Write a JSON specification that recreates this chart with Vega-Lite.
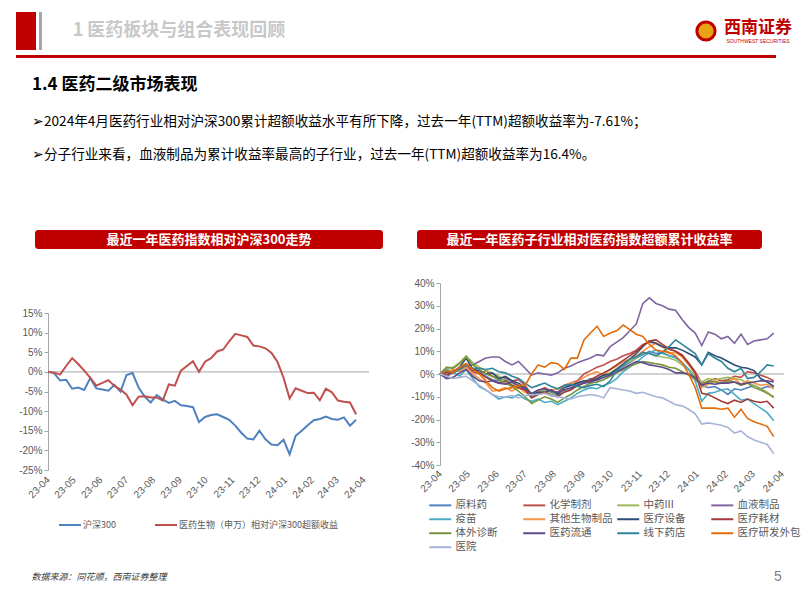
{
"$schema": "https://vega.github.io/schema/vega-lite/v6.json",
"background": "white",
"padding": {"left": 16, "top": 12, "right": 4, "bottom": 4},
"config": {"view": {"stroke": null}, "font": "Noto Sans CJK SC", "axis": {"labelOverlap": false}, "axisY": {"labelOverlap": false}},
"datasets": {
"hs": [
{"d":"2023-04-01","沪深300":0,"医药生物（申万）相对沪深300超额收益":0},
{"d":"2023-04-08","沪深300":-0.3,"医药生物（申万）相对沪深300超额收益":-0.2},
{"d":"2023-04-15","沪深300":-2.2,"医药生物（申万）相对沪深300超额收益":-0.7},
{"d":"2023-04-22","沪深300":-2.0,"医药生物（申万）相对沪深300超额收益":1.5},
{"d":"2023-04-29","沪深300":-4.3,"医药生物（申万）相对沪深300超额收益":3.5},
{"d":"2023-05-06","沪深300":-4.0,"医药生物（申万）相对沪深300超额收益":2.0},
{"d":"2023-05-13","沪深300":-4.6,"医药生物（申万）相对沪深300超额收益":0.3},
{"d":"2023-05-20","沪深300":-1.6,"医药生物（申万）相对沪深300超额收益":-1.5},
{"d":"2023-05-27","沪深300":-4.2,"医药生物（申万）相对沪深300超额收益":-3.5},
{"d":"2023-06-03","沪深300":-4.5,"医药生物（申万）相对沪深300超额收益":-2.8},
{"d":"2023-06-10","沪深300":-4.8,"医药生物（申万）相对沪深300超额收益":-2.1},
{"d":"2023-06-17","沪深300":-3.3,"医药生物（申万）相对沪深300超额收益":-3.6},
{"d":"2023-06-24","沪深300":-5.0,"医药生物（申万）相对沪深300超额收益":-4.5},
{"d":"2023-07-01","沪深300":-0.8,"医药生物（申万）相对沪深300超额收益":-5.8},
{"d":"2023-07-08","沪深300":-0.3,"医药生物（申万）相对沪深300超额收益":-8.5},
{"d":"2023-07-15","沪深300":-4.0,"医药生物（申万）相对沪深300超额收益":-6.3},
{"d":"2023-07-22","沪深300":-6.3,"医药生物（申万）相对沪深300超额收益":-6.2},
{"d":"2023-07-29","沪深300":-7.8,"医药生物（申万）相对沪深300超额收益":-6.5},
{"d":"2023-08-05","沪深300":-5.9,"医药生物（申万）相对沪深300超额收益":-6.5},
{"d":"2023-08-12","沪深300":-7.0,"医药生物（申万）相对沪深300超额收益":-7.3},
{"d":"2023-08-19","沪深300":-7.9,"医药生物（申万）相对沪深300超额收益":-3.2},
{"d":"2023-08-26","沪深300":-7.4,"医药生物（申万）相对沪深300超额收益":-3.5},
{"d":"2023-09-02","沪深300":-8.5,"医药生物（申万）相对沪深300超额收益":0.3},
{"d":"2023-09-09","沪深300":-8.7,"医药生物（申万）相对沪深300超额收益":1.5},
{"d":"2023-09-16","沪深300":-9.0,"医药生物（申万）相对沪深300超额收益":2.7},
{"d":"2023-09-23","沪深300":-12.8,"医药生物（申万）相对沪深300超额收益":0.0},
{"d":"2023-09-30","沪深300":-11.5,"医药生物（申万）相对沪深300超额收益":2.6},
{"d":"2023-10-07","沪深300":-11.0,"医药生物（申万）相对沪深300超额收益":3.5},
{"d":"2023-10-14","沪深300":-10.8,"医药生物（申万）相对沪深300超额收益":5.2},
{"d":"2023-10-21","沪深300":-11.5,"医药生物（申万）相对沪深300超额收益":5.7},
{"d":"2023-10-28","沪深300":-12.2,"医药生物（申万）相对沪深300超额收益":7.8},
{"d":"2023-11-04","沪深300":-13.7,"医药生物（申万）相对沪深300超额收益":9.7},
{"d":"2023-11-11","沪深300":-15.5,"医药生物（申万）相对沪深300超额收益":9.3},
{"d":"2023-11-18","沪深300":-17.0,"医药生物（申万）相对沪深300超额收益":8.9},
{"d":"2023-11-25","沪深300":-17.2,"医药生物（申万）相对沪深300超额收益":6.7},
{"d":"2023-12-02","沪深300":-15.0,"医药生物（申万）相对沪深300超额收益":6.5},
{"d":"2023-12-09","沪深300":-17.2,"医药生物（申万）相对沪深300超额收益":6.0},
{"d":"2023-12-16","沪深300":-18.5,"医药生物（申万）相对沪深300超额收益":4.8},
{"d":"2023-12-23","沪深300":-18.7,"医药生物（申万）相对沪深300超额收益":2.5},
{"d":"2023-12-30","沪深300":-17.3,"医药生物（申万）相对沪深300超额收益":-1.5},
{"d":"2024-01-06","沪深300":-21.0,"医药生物（申万）相对沪深300超额收益":-6.8},
{"d":"2024-01-13","沪深300":-16.3,"医药生物（申万）相对沪深300超额收益":-4.2},
{"d":"2024-01-20","沪深300":-15.0,"医药生物（申万）相对沪深300超额收益":-4.8},
{"d":"2024-01-27","沪深300":-13.6,"医药生物（申万）相对沪深300超额收益":-5.4},
{"d":"2024-02-03","沪深300":-12.3,"医药生物（申万）相对沪深300超额收益":-5.3},
{"d":"2024-02-10","沪深300":-12.0,"医药生物（申万）相对沪深300超额收益":-7.2},
{"d":"2024-02-17","沪深300":-11.4,"医药生物（申万）相对沪深300超额收益":-4.3},
{"d":"2024-02-24","沪深300":-12.0,"医药生物（申万）相对沪深300超额收益":-5.2},
{"d":"2024-03-02","沪深300":-12.2,"医药生物（申万）相对沪深300超额收益":-7.3},
{"d":"2024-03-09","沪深300":-11.6,"医药生物（申万）相对沪深300超额收益":-7.6},
{"d":"2024-03-16","沪深300":-13.7,"医药生物（申万）相对沪深300超额收益":-7.8},
{"d":"2024-03-23","沪深300":-12.2,"医药生物（申万）相对沪深300超额收益":-10.8}
],
"sub": [
{"d":"2023-04-01","原料药":0,"化学制剂":0,"中药III":0,"血液制品":0,"疫苗":0,"其他生物制品":0,"医疗设备":0,"医疗耗材":0,"体外诊断":0,"医药流通":0,"线下药店":0,"医疗研发外包":0,"医院":0},
{"d":"2023-04-08","原料药":1.0,"化学制剂":0.5,"中药III":2.5,"血液制品":-1.5,"疫苗":2.0,"其他生物制品":1.0,"医疗设备":1.0,"医疗耗材":-0.5,"体外诊断":3.0,"医药流通":-2.0,"线下药店":1.5,"医疗研发外包":1.5,"医院":-1.0},
{"d":"2023-04-15","原料药":0.5,"化学制剂":1.0,"中药III":3.0,"血液制品":1.0,"疫苗":1.0,"其他生物制品":2.0,"医疗设备":0.5,"医疗耗材":1.0,"体外诊断":2.5,"医药流通":-1.5,"线下药店":0.5,"医疗研发外包":0.5,"医院":-2.0},
{"d":"2023-04-22","原料药":2.5,"化学制剂":2.0,"中药III":5.0,"血液制品":2.5,"疫苗":-1.0,"其他生物制品":1.0,"医疗设备":3.0,"医疗耗材":3.0,"体外诊断":4.5,"医药流通":0.5,"线下药店":2.0,"医疗研发外包":3.0,"医院":-1.5},
{"d":"2023-04-29","原料药":4.0,"化学制剂":3.5,"中药III":8.0,"血液制品":3.0,"疫苗":2.0,"其他生物制品":3.0,"医疗设备":7.0,"医疗耗材":4.5,"体外诊断":7.5,"医药流通":2.0,"线下药店":4.0,"医疗研发外包":4.5,"医院":-1.0},
{"d":"2023-05-06","原料药":1.5,"化学制剂":1.0,"中药III":5.0,"血液制品":4.0,"疫苗":-2.0,"其他生物制品":0.0,"医疗设备":2.0,"医疗耗材":2.0,"体外诊断":4.0,"医药流通":-1.0,"线下药店":2.5,"医疗研发外包":2.0,"医院":-3.0},
{"d":"2023-05-13","原料药":0.5,"化学制剂":0.0,"中药III":3.0,"血液制品":5.5,"疫苗":-5.5,"其他生物制品":-2.0,"医疗设备":1.5,"医疗耗材":0.5,"体外诊断":2.0,"医药流通":-3.0,"线下药店":2.5,"医疗研发外包":0.0,"医院":-5.0},
{"d":"2023-05-20","原料药":-1.0,"化学制剂":1.5,"中药III":1.5,"血液制品":7.0,"疫苗":-7.0,"其他生物制品":-4.0,"医疗设备":0.0,"医疗耗材":-1.5,"体外诊断":0.0,"医药流通":-3.5,"线下药店":2.0,"医疗研发外包":-3.0,"医院":-7.0},
{"d":"2023-05-27","原料药":-2.5,"化学制剂":-1.0,"中药III":0.5,"血液制品":7.5,"疫苗":-9.0,"其他生物制品":-7.5,"医疗设备":0.5,"医疗耗材":-3.0,"体外诊断":-1.0,"医药流通":-3.0,"线下药店":2.5,"医疗研发外包":-6.0,"医院":-9.0},
{"d":"2023-06-03","原料药":-3.0,"化学制剂":-2.0,"中药III":-1.0,"血液制品":7.5,"疫苗":-11.0,"其他生物制品":-7.0,"医疗设备":-2.0,"医疗耗材":-4.0,"体外诊断":-2.5,"医药流通":-4.0,"线下药店":1.0,"医疗研发外包":-7.5,"医院":-10.0},
{"d":"2023-06-10","原料药":-2.0,"化学制剂":-1.5,"中药III":-3.0,"血液制品":5.5,"疫苗":-10.0,"其他生物制品":-6.0,"医疗设备":-1.0,"医疗耗材":-3.0,"体外诊断":-4.0,"医药流通":-4.5,"线下药店":0.5,"医疗研发外包":-6.5,"医院":-10.0},
{"d":"2023-06-17","原料药":-4.0,"化学制剂":-3.0,"中药III":-4.0,"血液制品":4.0,"疫苗":-10.5,"其他生物制品":-7.5,"医疗设备":-3.0,"医疗耗材":-5.0,"体外诊断":-5.5,"医药流通":-3.5,"线下药店":-1.0,"医疗研发外包":-6.0,"医院":-9.5},
{"d":"2023-06-24","原料药":-5.0,"化学制剂":-2.5,"中药III":-5.5,"血液制品":5.5,"疫苗":-9.0,"其他生物制品":-6.0,"医疗设备":-4.0,"医疗耗材":-6.0,"体外诊断":-7.5,"医药流通":-5.0,"线下药店":-2.0,"医疗研发外包":-5.0,"医院":-10.5},
{"d":"2023-07-01","原料药":-6.5,"化学制剂":-5.0,"中药III":-7.0,"血液制品":2.5,"疫苗":-11.0,"其他生物制品":-8.0,"医疗设备":-6.0,"医疗耗材":-7.0,"体外诊断":-10.0,"医药流通":-6.5,"线下药店":-4.0,"医疗研发外包":-5.0,"医院":-9.5},
{"d":"2023-07-08","原料药":-10.0,"化学制剂":-9.0,"中药III":-9.5,"血液制品":-0.5,"疫苗":-12.0,"其他生物制品":-9.0,"医疗设备":-9.0,"医疗耗材":-10.5,"体外诊断":-13.0,"医药流通":-8.5,"线下药店":-6.0,"医疗研发外包":0.0,"医院":-9.0},
{"d":"2023-07-15","原料药":-8.5,"化学制剂":-7.5,"中药III":-8.0,"血液制品":0.5,"疫苗":-11.0,"其他生物制品":-8.0,"医疗设备":-8.0,"医疗耗材":-9.0,"体外诊断":-11.5,"医药流通":-7.0,"线下药店":-5.0,"医疗研发外包":4.0,"医院":-9.0},
{"d":"2023-07-22","原料药":-7.0,"化学制剂":-6.0,"中药III":-7.0,"血液制品":0.0,"疫苗":-12.5,"其他生物制品":-8.5,"医疗设备":-8.0,"医疗耗材":-8.0,"体外诊断":-10.0,"医药流通":-6.5,"线下药店":-4.0,"医疗研发外包":3.0,"医院":-8.5},
{"d":"2023-07-29","原料药":-8.0,"化学制剂":-7.5,"中药III":-9.0,"血液制品":-0.5,"疫苗":-12.0,"其他生物制品":-7.0,"医疗设备":-7.0,"医疗耗材":-9.5,"体外诊断":-11.0,"医药流通":-7.5,"线下药店":-5.5,"医疗研发外包":5.0,"医院":-9.5},
{"d":"2023-08-05","原料药":-9.5,"化学制剂":-8.0,"中药III":-8.5,"血液制品":0.5,"疫苗":-13.5,"其他生物制品":-6.5,"医疗设备":-9.0,"医疗耗材":-10.0,"体外诊断":-12.5,"医药流通":-8.0,"线下药店":-6.5,"医疗研发外包":4.5,"医院":-10.0},
{"d":"2023-08-12","原料药":-7.0,"化学制剂":-5.0,"中药III":-7.5,"血液制品":2.5,"疫苗":-12.0,"其他生物制品":-5.0,"医疗设备":-6.0,"医疗耗材":-8.0,"体外诊断":-10.5,"医药流通":-7.0,"线下药店":-5.0,"医疗研发外包":2.0,"医院":-10.5},
{"d":"2023-08-19","原料药":-6.5,"化学制剂":-4.0,"中药III":-6.0,"血液制品":3.5,"疫苗":-10.5,"其他生物制品":-4.0,"医疗设备":-5.0,"医疗耗材":-7.0,"体外诊断":-9.0,"医药流通":-6.0,"线下药店":-4.5,"医疗研发外包":7.0,"医院":-11.0},
{"d":"2023-08-26","原料药":-4.0,"化学制剂":-3.0,"中药III":-5.5,"血液制品":5.0,"疫苗":-8.5,"其他生物制品":-3.5,"医疗设备":-4.0,"医疗耗材":-5.0,"体外诊断":-7.0,"医药流通":-5.0,"线下药店":-5.5,"医疗研发外包":7.0,"医院":-10.0},
{"d":"2023-09-02","原料药":-3.5,"化学制剂":0.0,"中药III":-4.0,"血液制品":6.0,"疫苗":-7.0,"其他生物制品":-1.5,"医疗设备":-3.0,"医疗耗材":-4.0,"体外诊断":-5.5,"医药流通":-4.0,"线下药店":-6.0,"医疗研发外包":15.0,"医院":-9.5},
{"d":"2023-09-09","原料药":-2.0,"化学制剂":1.5,"中药III":-3.0,"血液制品":7.0,"疫苗":-6.0,"其他生物制品":0.0,"医疗设备":-3.0,"医疗耗材":-2.5,"体外诊断":-4.0,"医药流通":-3.5,"线下药店":-5.0,"医疗研发外包":18.0,"医院":-9.0},
{"d":"2023-09-16","原料药":-3.0,"化学制剂":3.0,"中药III":-2.0,"血液制品":8.5,"疫苗":-6.5,"其他生物制品":1.0,"医疗设备":-2.0,"医疗耗材":-1.0,"体外诊断":-3.5,"医药流通":-2.5,"线下药店":-4.5,"医疗研发外包":21.0,"医院":-9.5},
{"d":"2023-09-23","原料药":-1.0,"化学制剂":4.0,"中药III":-1.0,"血液制品":8.0,"疫苗":-5.0,"其他生物制品":-0.5,"医疗设备":-0.5,"医疗耗材":0.5,"体外诊断":-2.5,"医药流通":-1.5,"线下药店":-5.5,"医疗研发外包":16.5,"医院":-10.5},
{"d":"2023-09-30","原料药":0.5,"化学制剂":5.5,"中药III":0.5,"血液制品":12.0,"疫苗":-4.0,"其他生物制品":2.0,"医疗设备":0.0,"医疗耗材":2.0,"体外诊断":-1.0,"医药流通":-0.5,"线下药店":-3.0,"医疗研发外包":18.0,"医院":-6.0},
{"d":"2023-10-07","原料药":2.0,"化学制剂":6.5,"中药III":2.5,"血液制品":14.0,"疫苗":-2.0,"其他生物制品":3.5,"医疗设备":2.0,"医疗耗材":4.0,"体外诊断":0.5,"医药流通":1.0,"线下药店":1.5,"医疗研发外包":19.0,"医院":-6.5},
{"d":"2023-10-14","原料药":3.5,"化学制剂":8.0,"中药III":4.0,"血液制品":16.0,"疫苗":1.0,"其他生物制品":5.5,"医疗设备":4.5,"医疗耗材":6.0,"体外诊断":2.0,"医药流通":2.5,"线下药店":4.0,"医疗研发外包":21.5,"医院":-7.0},
{"d":"2023-10-21","原料药":5.0,"化学制剂":9.0,"中药III":5.5,"血液制品":19.0,"疫苗":3.0,"其他生物制品":6.5,"医疗设备":6.5,"医疗耗材":8.0,"体外诊断":3.5,"医药流通":4.0,"线下药店":6.5,"医疗研发外包":19.5,"医院":-7.5},
{"d":"2023-10-28","原料药":7.0,"化学制剂":10.5,"中药III":7.0,"血液制品":22.0,"疫苗":5.0,"其他生物制品":8.0,"医疗设备":9.0,"医疗耗材":10.0,"体外诊断":4.5,"医药流通":5.5,"线下药店":7.5,"医疗研发外包":17.5,"医院":-8.5},
{"d":"2023-11-04","原料药":8.5,"化学制剂":13.0,"中药III":9.5,"血液制品":31.0,"疫苗":7.5,"其他生物制品":10.0,"医疗设备":12.0,"医疗耗材":12.5,"体外诊断":5.5,"医药流通":5.0,"线下药店":9.5,"医疗研发外包":16.5,"医院":-8.0},
{"d":"2023-11-11","原料药":10.0,"化学制剂":14.0,"中药III":9.0,"血液制品":33.5,"疫苗":9.5,"其他生物制品":12.0,"医疗设备":14.5,"医疗耗材":14.5,"体外诊断":5.0,"医药流通":4.0,"线下药店":9.0,"医疗研发外包":13.0,"医院":-9.0},
{"d":"2023-11-18","原料药":9.0,"化学制剂":13.5,"中药III":8.0,"血液制品":31.0,"疫苗":10.5,"其他生物制品":13.5,"医疗设备":13.5,"医疗耗材":15.0,"体外诊断":4.5,"医药流通":3.5,"线下药店":8.0,"医疗研发外包":10.5,"医院":-10.0},
{"d":"2023-11-25","原料药":9.5,"化学制剂":12.0,"中药III":7.5,"血液制品":30.0,"疫苗":9.0,"其他生物制品":12.0,"医疗设备":12.0,"医疗耗材":13.0,"体外诊断":4.0,"医药流通":3.0,"线下药店":9.5,"医疗研发外包":10.0,"医院":-10.5},
{"d":"2023-12-02","原料药":8.0,"化学制剂":11.0,"中药III":7.0,"血液制品":28.5,"疫苗":8.0,"其他生物制品":9.0,"医疗设备":11.5,"医疗耗材":11.0,"体外诊断":3.0,"医药流通":2.0,"线下药店":12.0,"医疗研发外包":9.5,"医院":-12.0},
{"d":"2023-12-09","原料药":7.5,"化学制剂":10.0,"中药III":6.0,"血液制品":28.0,"疫苗":7.0,"其他生物制品":9.5,"医疗设备":11.5,"医疗耗材":10.0,"体外诊断":2.5,"医药流通":0.5,"线下药店":15.0,"医疗研发外包":8.0,"医院":-13.5},
{"d":"2023-12-16","原料药":5.0,"化学制剂":8.5,"中药III":4.0,"血液制品":24.0,"疫苗":5.0,"其他生物制品":7.5,"医疗设备":10.5,"医疗耗材":8.0,"体外诊断":1.0,"医药流通":0.5,"线下药店":13.0,"医疗研发外包":5.0,"医院":-14.0},
{"d":"2023-12-23","原料药":2.0,"化学制剂":5.0,"中药III":2.0,"血液制品":20.5,"疫苗":2.0,"其他生物制品":4.0,"医疗设备":9.0,"医疗耗材":4.5,"体外诊断":-0.5,"医药流通":0.0,"线下药店":11.0,"医疗研发外包":0.0,"医院":-15.5},
{"d":"2023-12-30","原料药":-1.0,"化学制剂":1.0,"中药III":-1.0,"血液制品":18.0,"疫苗":-3.0,"其他生物制品":0.0,"医疗设备":7.5,"医疗耗材":0.5,"体外诊断":-2.5,"医药流通":-1.5,"线下药店":9.0,"医疗研发外包":-6.0,"医院":-17.5},
{"d":"2024-01-06","原料药":-5.0,"化学制剂":-4.0,"中药III":-3.5,"血液制品":12.5,"疫苗":-12.0,"其他生物制品":-6.0,"医疗设备":4.0,"医疗耗材":-8.5,"体外诊断":-5.0,"医药流通":-5.0,"线下药店":4.0,"医疗研发外包":-15.0,"医院":-22.0},
{"d":"2024-01-13","原料药":-6.0,"化学制剂":-3.5,"中药III":-2.0,"血液制品":18.5,"疫苗":-8.5,"其他生物制品":-4.5,"医疗设备":9.5,"医疗耗材":-9.0,"体外诊断":-3.0,"医药流通":-4.0,"线下药店":9.0,"医疗研发外包":-15.0,"医院":-21.5},
{"d":"2024-01-20","原料药":-5.5,"化学制剂":-2.0,"中药III":-2.5,"血液制品":17.5,"疫苗":-8.0,"其他生物制品":-3.0,"医疗设备":8.0,"医疗耗材":-10.5,"体外诊断":-3.5,"医药流通":-4.5,"线下药店":7.0,"医疗研发外包":-15.0,"医院":-22.0},
{"d":"2024-01-27","原料药":-7.0,"化学制剂":-3.0,"中药III":-2.0,"血液制品":15.5,"疫苗":-7.0,"其他生物制品":-4.0,"医疗设备":7.0,"医疗耗材":-12.0,"体外诊断":-4.0,"医药流通":-4.0,"线下药店":5.5,"医疗研发外包":-15.5,"医院":-22.5},
{"d":"2024-02-03","原料药":-9.0,"化学制剂":-2.5,"中药III":-1.5,"血液制品":16.5,"疫苗":-6.5,"其他生物制品":-3.5,"医疗设备":5.5,"医疗耗材":-13.0,"体外诊断":-3.0,"医药流通":-4.0,"线下药店":2.5,"医疗研发外包":-15.0,"医院":-23.5},
{"d":"2024-02-10","原料药":-6.5,"化学制剂":-1.0,"中药III":-2.0,"血液制品":13.5,"疫苗":-9.0,"其他生物制品":-2.0,"医疗设备":4.0,"医疗耗材":-11.5,"体外诊断":-3.5,"医药流通":-3.5,"线下药店":1.0,"医疗研发外包":-19.0,"医院":-26.0},
{"d":"2024-02-17","原料药":-7.0,"化学制剂":-1.5,"中药III":-2.5,"血液制品":17.5,"疫苗":-11.5,"其他生物制品":-4.5,"医疗设备":3.0,"医疗耗材":-12.5,"体外诊断":-5.0,"医药流通":-4.5,"线下药店":2.5,"医疗研发外包":-15.5,"医院":-25.0},
{"d":"2024-02-24","原料药":-6.0,"化学制剂":1.0,"中药III":-4.0,"血液制品":13.0,"疫苗":-11.0,"其他生物制品":-3.0,"医疗设备":2.5,"医疗耗材":-11.0,"体外诊断":-4.0,"医药流通":-4.0,"线下药店":-2.0,"医疗研发外包":-19.5,"医院":-27.5},
{"d":"2024-03-02","原料药":-5.0,"化学制剂":0.5,"中药III":-5.0,"血液制品":14.5,"疫苗":-13.0,"其他生物制品":-4.0,"医疗设备":1.5,"医疗耗材":-12.0,"体外诊断":-6.0,"医药流通":-3.5,"线下药店":-1.5,"医疗研发外包":-21.0,"医院":-29.0},
{"d":"2024-03-09","原料药":-6.5,"化学制剂":-0.5,"中药III":-6.5,"血液制品":15.0,"疫苗":-15.0,"其他生物制品":-5.0,"医疗设备":-2.0,"医疗耗材":-12.5,"体外诊断":-7.0,"医药流通":-3.0,"线下药店":1.0,"医疗研发外包":-22.0,"医院":-30.0},
{"d":"2024-03-16","原料药":-5.5,"化学制剂":-1.5,"中药III":-8.0,"血液制品":15.5,"疫苗":-17.0,"其他生物制品":-4.5,"医疗设备":-3.5,"医疗耗材":-12.0,"体外诊断":-8.5,"医药流通":-3.0,"线下药店":4.0,"医疗研发外包":-23.0,"医院":-31.0},
{"d":"2024-03-23","原料药":-6.0,"化学制剂":-3.0,"中药III":-10.5,"血液制品":18.0,"疫苗":-20.5,"其他生物制品":-6.5,"医疗设备":-5.5,"医疗耗材":-15.0,"体外诊断":-10.0,"医药流通":-3.5,"线下药店":3.5,"医疗研发外包":-27.5,"医院":-35.0}
]
},
"spacing": 0,
"resolve": {"scale": {"color": "independent"}, "legend": {"color": "independent"}},
"vconcat": [
{"spacing": 0, "hconcat": [
 {"width": 20, "height": 38, "view": {"fill": "#c00000", "stroke": null}, "data": {"values": [{}]}, "mark": "text", "encoding": {"text": {"value": ""}}},
 {"width": 3, "height": 38, "data": {"values": [{}]}, "mark": "text", "encoding": {"text": {"value": ""}}},
 {"width": 3, "height": 38, "view": {"fill": "#a6a6a6", "stroke": null}, "data": {"values": [{}]}, "mark": "text", "encoding": {"text": {"value": ""}}},
 {"width": 274, "height": 38, "data": {"values": [{"t": "1 医药板块与组合表现回顾"}]}, "mark": {"type": "text", "font": "Noto Sans CJK SC", "fontSize": 18, "fontWeight": "bold", "color": "#c8c8c8", "baseline": "middle"}, "encoding": {"text": {"field": "t"}}},
 {"width": 374, "height": 38, "data": {"values": [{}]}, "mark": "text", "encoding": {"text": {"value": ""}}},
 {"width": 24, "height": 38, "data": {"values": [{}]}, "mark": {"type": "point", "filled": true, "fill": "#e8a317", "stroke": "#c00000", "strokeWidth": 3, "size": 330, "opacity": 1}, "encoding": {}},
 {"width": 72, "height": 38, "data": {"values": [{"t": "西南证券", "e": "SOUTHWEST SECURITIES"}]}, "layer": [
   {"mark": {"type": "text", "font": "Noto Sans CJK SC", "fontSize": 17, "fontWeight": "bold", "color": "#c00000", "baseline": "middle", "dy": -3}, "encoding": {"text": {"field": "t"}}},
   {"mark": {"type": "text", "font": "Liberation Sans", "fontSize": 5, "color": "#c00000", "baseline": "middle", "dy": 10}, "encoding": {"text": {"field": "e"}}}
 ]}
]},
{"width": 760, "height": 3, "view": {"fill": "#c00000", "stroke": null}, "data": {"values": [{}]}, "mark": "text", "encoding": {"text": {"value": ""}}},
{"width": 1, "height": 13, "data": {"values": [{}]}, "mark": "text", "encoding": {"text": {"value": ""}}},
{"spacing": 0,
 "resolve": {"scale": {"color": "independent"}, "legend": {"color": "independent"}},
 "title": {"text": "1.4 医药二级市场表现", "subtitle": ["➢2024年4月医药行业相对沪深300累计超额收益水平有所下降，过去一年(TTM)超额收益率为-7.61%；", "➢分子行业来看，血液制品为累计收益率最高的子行业，过去一年(TTM)超额收益率为16.4%。"], "anchor": "start", "orient": "top", "dx": 16, "offset": 62, "font": "Noto Sans CJK SC", "fontSize": 17, "fontWeight": "bold", "color": "#000000", "subtitleFont": "Noto Sans CJK SC", "subtitleFontSize": 13.6, "subtitleColor": "#000000", "subtitlePadding": 21, "subtitleLineHeight": 33},
 "hconcat": [
 {"width": 1, "height": 1, "data": {"values": [{}]}, "mark": "text", "encoding": {"text": {"value": ""}}},
 {"spacing": 58, "resolve": {"scale": {"color": "independent"}, "legend": {"color": "independent"}}, "vconcat": [
   {"spacing": 0, "hconcat": [
     {"width": 18, "height": 19, "data": {"values": [{}]}, "mark": "text", "encoding": {"text": {"value": ""}}},
     {"width": 348, "height": 19, "view": {"fill": "#c00000", "stroke": null, "cornerRadius": 3}, "data": {"values": [{"t": "最近一年医药指数相对沪深300走势"}]}, "mark": {"type": "text", "font": "Noto Sans CJK SC", "fontSize": 13, "fontWeight": "bold", "color": "#ffffff", "baseline": "middle"}, "encoding": {"text": {"field": "t"}}}
   ]},
   {"spacing": 0, "resolve": {"scale": {"color": "independent"}, "legend": {"color": "independent"}}, "hconcat": [
     {"width": 1, "height": 1, "data": {"values": [{}]}, "mark": "text", "encoding": {"text": {"value": ""}}},
     {"width": 321, "height": 157, "data": {"name": "hs"},
      "transform": [{"fold": ["沪深300", "医药生物（申万）相对沪深300超额收益"], "as": ["s", "v"]}],
      "layer": [
        {"data": {"values": [{}]}, "mark": {"type": "rule", "color": "#a6a6a6", "strokeWidth": 1}, "encoding": {"y": {"datum": 0, "type": "quantitative", "scale": {"domain": [-25, 15], "nice": false, "zero": false},
                "axis": {"values": [-25, -20, -15, -10, -5, 0, 5, 10, 15], "labelExpr": "datum.value + '%'", "labelOverlap": false, "domainColor": "#a6a6a6", "tickColor": "#a6a6a6", "tickSize": 4, "labelPadding": 2, "grid": false, "title": null, "labelFont": "Liberation Sans", "labelFontSize": 10, "labelColor": "#595959"}}}},
        {"mark": {"type": "line", "strokeWidth": 2}, "encoding": {
          "x": {"field": "d", "type": "temporal", "scale": {"type": "utc", "nice": false, "domain": [{"year": 2023, "month": 4, "date": 1, "utc": true}, {"year": 2024, "month": 4, "date": 7, "utc": true}]},
                "axis": {"format": "%y-%m", "tickCount": {"interval": "month", "step": 1}, "labelAngle": -45, "labelAlign": "right", "labelBaseline": "middle", "domain": false, "ticks": false, "grid": false, "title": null, "labelFont": "Liberation Sans", "labelFontSize": 10, "labelColor": "#595959", "labelPadding": 8, "labelOverlap": false, "labelFlush": false, "labelBound": false}},
          "y": {"field": "v", "type": "quantitative", "scale": {"domain": [-25, 15], "nice": false, "zero": false},
                "axis": {"values": [-25, -20, -15, -10, -5, 0, 5, 10, 15], "labelExpr": "datum.value + '%'", "labelOverlap": false, "domainColor": "#a6a6a6", "tickColor": "#a6a6a6", "tickSize": 4, "labelPadding": 2, "grid": false, "title": null, "labelFont": "Liberation Sans", "labelFontSize": 10, "labelColor": "#595959"}},
          "color": {"field": "s", "type": "nominal", "scale": {"domain": ["沪深300", "医药生物（申万）相对沪深300超额收益"], "range": ["#4f81bd", "#c0504d"]},
                "legend": {"title": null, "orient": "bottom", "direction": "horizontal", "symbolType": "M-4,0H1.5", "symbolSize": 64, "symbolStrokeWidth": 2, "labelOffset": 3, "columnPadding": 35, "padding": 22, "labelFont": "Noto Sans CJK SC", "labelFontSize": 9, "labelColor": "#595959", "labelLimit": 300, "offset": -2}}
        }}
      ]}
   ]}
 ]},
 {"width": 26, "height": 1, "data": {"values": [{}]}, "mark": "text", "encoding": {"text": {"value": ""}}},
 {"spacing": 28, "resolve": {"scale": {"color": "independent"}, "legend": {"color": "independent"}}, "vconcat": [
   {"spacing": 0, "hconcat": [
     {"width": 8, "height": 19, "data": {"values": [{}]}, "mark": "text", "encoding": {"text": {"value": ""}}},
     {"width": 345, "height": 19, "view": {"fill": "#c00000", "stroke": null, "cornerRadius": 3}, "data": {"values": [{"t": "最近一年医药子行业相对医药指数超额累计收益率"}]}, "mark": {"type": "text", "font": "Noto Sans CJK SC", "fontSize": 13, "fontWeight": "bold", "color": "#ffffff", "baseline": "middle"}, "encoding": {"text": {"field": "t"}}}
   ]},
   {"spacing": 0, "resolve": {"scale": {"color": "independent"}, "legend": {"color": "independent"}}, "hconcat": [
     {"width": 1, "height": 1, "data": {"values": [{}]}, "mark": "text", "encoding": {"text": {"value": ""}}},
     {"width": 344, "height": 182, "data": {"name": "sub"},
      "transform": [{"fold": ["原料药", "化学制剂", "中药III", "血液制品", "疫苗", "其他生物制品", "医疗设备", "医疗耗材", "体外诊断", "医药流通", "线下药店", "医疗研发外包", "医院"], "as": ["s", "v"]}],
      "layer": [
        {"data": {"values": [{}]}, "mark": {"type": "rule", "color": "#a6a6a6", "strokeWidth": 1}, "encoding": {"y": {"datum": 0, "type": "quantitative", "scale": {"domain": [-40, 40], "nice": false, "zero": false},
                "axis": {"values": [-40, -30, -20, -10, 0, 10, 20, 30, 40], "labelExpr": "datum.value + '%'", "labelOverlap": false, "domainColor": "#a6a6a6", "tickColor": "#a6a6a6", "tickSize": 4, "labelPadding": 2, "grid": false, "title": null, "labelFont": "Liberation Sans", "labelFontSize": 10, "labelColor": "#595959"}}}},
        {"mark": {"type": "line", "strokeWidth": 1.6}, "encoding": {
          "x": {"field": "d", "type": "temporal", "scale": {"type": "utc", "nice": false, "domain": [{"year": 2023, "month": 4, "date": 1, "utc": true}, {"year": 2024, "month": 4, "date": 3, "utc": true}]},
                "axis": {"format": "%y-%m", "tickCount": {"interval": "month", "step": 1}, "labelAngle": -45, "labelAlign": "right", "labelBaseline": "middle", "domain": false, "ticks": false, "grid": false, "title": null, "labelFont": "Liberation Sans", "labelFontSize": 10, "labelColor": "#595959", "labelPadding": 7, "labelOverlap": false, "labelFlush": false, "labelBound": false}},
          "y": {"field": "v", "type": "quantitative", "scale": {"domain": [-40, 40], "nice": false, "zero": false},
                "axis": {"values": [-40, -30, -20, -10, 0, 10, 20, 30, 40], "labelExpr": "datum.value + '%'", "labelOverlap": false, "domainColor": "#a6a6a6", "tickColor": "#a6a6a6", "tickSize": 4, "labelPadding": 2, "grid": false, "title": null, "labelFont": "Liberation Sans", "labelFontSize": 10, "labelColor": "#595959"}},
          "color": {"field": "s", "type": "nominal", "scale": {"domain": ["原料药", "化学制剂", "中药III", "血液制品", "疫苗", "其他生物制品", "医疗设备", "医疗耗材", "体外诊断", "医药流通", "线下药店", "医疗研发外包", "医院"], "range": ["#4f81bd", "#c0504d", "#9bbb59", "#8064a2", "#4bacc6", "#f79646", "#2c4d75", "#a33a36", "#77933c", "#5f4a8b", "#31859c", "#e46c0a", "#a5b4d6"]},
                "legend": {"title": null, "orient": "bottom", "direction": "horizontal", "columns": 4, "gridAlign": "all", "symbolType": "M-4,0H1.5", "symbolSize": 64, "symbolStrokeWidth": 2, "labelOffset": 5, "columnPadding": 0, "rowPadding": 3, "labelFont": "Noto Sans CJK SC", "labelFontSize": 10.5, "labelColor": "#595959", "labelLimit": 300, "offset": 6}}
        }}
      ]}
   ]}
 ]}
]},
{"width": 1, "height": 17, "data": {"values": [{}]}, "mark": "text", "encoding": {"text": {"value": ""}}},
{"spacing": 0, "hconcat": [
 {"width": 15, "height": 12, "data": {"values": [{}]}, "mark": "text", "encoding": {"text": {"value": ""}}},
 {"width": 136, "height": 12, "data": {"values": [{"t": "数据来源：同花顺，西南证券整理"}]}, "mark": {"type": "text", "font": "Noto Sans CJK SC", "fontSize": 9, "fontStyle": "italic", "color": "#404040", "baseline": "middle"}, "encoding": {"text": {"field": "t"}}},
 {"width": 605, "height": 12, "data": {"values": [{}]}, "mark": "text", "encoding": {"text": {"value": ""}}},
 {"width": 12, "height": 12, "data": {"values": [{"t": "5"}]}, "mark": {"type": "text", "font": "Liberation Sans", "fontSize": 14, "color": "#7f7f7f", "baseline": "middle"}, "encoding": {"text": {"field": "t"}}}
]}
]
}
